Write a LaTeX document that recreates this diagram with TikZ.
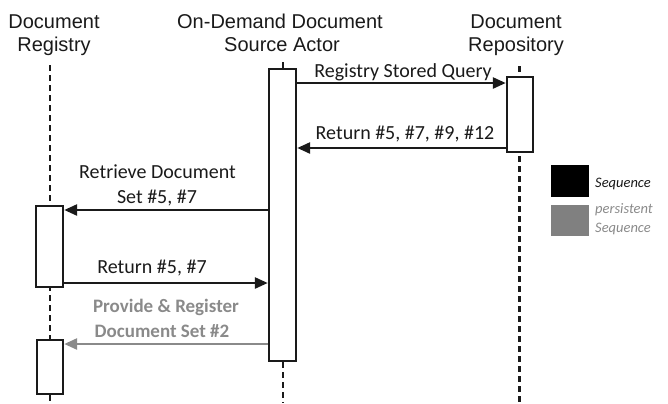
\documentclass[tikz,border=0pt]{standalone}
\usepackage{fontspec}
\setmainfont{Carlito}
\newfontfamily\hdrfont{Liberation Sans}
\usetikzlibrary{arrows.meta}
\definecolor{txt}{HTML}{1A1A1A}
\definecolor{pgray}{HTML}{8A8A8A}
\definecolor{lgray}{HTML}{808080}
\begin{document}
\begin{tikzpicture}[x=1bp,y=-1bp,
  hdr/.style={font=\hdrfont\fontsize{20bp}{23bp}\selectfont, text=txt, inner sep=0, anchor=base},
  lbl/.style={font=\fontsize{20bp}{24bp}\selectfont, text=txt, inner sep=0, anchor=base},
  plbl/.style={font=\bfseries\fontsize{19bp}{24bp}\selectfont, text=pgray, inner sep=0, anchor=base},
  actbox/.style={draw=txt, line width=2.4bp, fill=white, inner sep=0, minimum width=27bp, anchor=north},
  life/.style={draw=txt, line width=2.3bp, dash pattern=on 6bp off 4bp},
  msg/.style={draw=txt, line width=2.6bp, -{Triangle[length=13bp,width=11bp]}},
  pmsg/.style={msg, draw=pgray, color=pgray},
  leg/.style={font=\itshape\fontsize{14.5bp}{16bp}\selectfont, inner sep=0, anchor=base west},
  legbox/.style={inner sep=0, minimum width=38bp, minimum height=32bp, anchor=north west}
]
\useasboundingbox (0,0) rectangle (668,403);

% headers
\node[hdr] (regH1) at (54,28) {Document};
\node[hdr] (regH2) at (54,51.5) {Registry};
\node[hdr] (actH1) at (280,28) {On-Demand Document};
\node[hdr] (actH2) at (282,51.5) {Source Actor};
\node[hdr] (repH1) at (516,28) {Document};
\node[hdr] (repH2) at (516,51.5) {Repository};

% lifelines
\coordinate (regTop) at (50,65);
\coordinate (regBot) at (50,403);
\coordinate (actTop) at (283,62);
\coordinate (actBot) at (283,403);
\coordinate (repTop) at (519.5,66);
\coordinate (repBot) at (519.5,403);
\draw[life] (regTop) -- (regBot);
\draw[life] (actTop) -- (actBot);
\draw[life] (repTop) -- (repBot);

% activation boxes
\node[actbox, minimum height=81bp] (regbox1) at (49.5,205) {};
\node[actbox, minimum height=54bp, minimum width=26bp] (regbox2) at (50,339) {};
\node[actbox, minimum height=292bp] (actbox) at (282.5,68) {};
\node[actbox, minimum height=75bp, minimum width=26bp] (repbox) at (520,76) {};

% message heights
\coordinate (m1) at (0,83);
\coordinate (m2) at (0,148);
\coordinate (m3) at (0,210);
\coordinate (m4) at (0,283);
\coordinate (m5) at (0,344);

\draw[msg] (actbox.east |- m1) -- (repbox.west |- m1);
\draw[msg] (repbox.west |- m2) -- (actbox.east |- m2);
\draw[msg] (actbox.west |- m3) -- (regbox1.east |- m3);
\draw[msg] (regbox1.east |- m4) -- (actbox.west |- m4);
\draw[pmsg] (actbox.west |- m5) -- (regbox2.east |- m5);

% labels
\node[lbl] (l1) at (403,77) {Registry Stored Query};
\node[lbl] (l2) at (405,139) {Return \#5, \#7, \#9, \#12};
\node[lbl] (l3a) at (157.5,178) {Retrieve Document};
\node[lbl] (l3b) at (157,203) {Set \#5, \#7};
\node[lbl] (l4) at (152,273) {Return \#5, \#7};
\node[plbl] (l5a) at (166,312) {Provide \& Register};
\node[plbl] (l5b) at (162,337) {Document Set \#2};

% legend
\node[legbox, fill=black] (legA) at (551,165) {};
\node[legbox, fill=lgray, minimum height=31bp] (legB) at (551,205) {};
\node[leg, text=txt] (legAt) at (595,187) {Sequence};
\node[leg, text=pgray] (legBt1) at (595,213) {persistent};
\node[leg, text=pgray] (legBt2) at (595,232) {Sequence};
\end{tikzpicture}
\end{document}
